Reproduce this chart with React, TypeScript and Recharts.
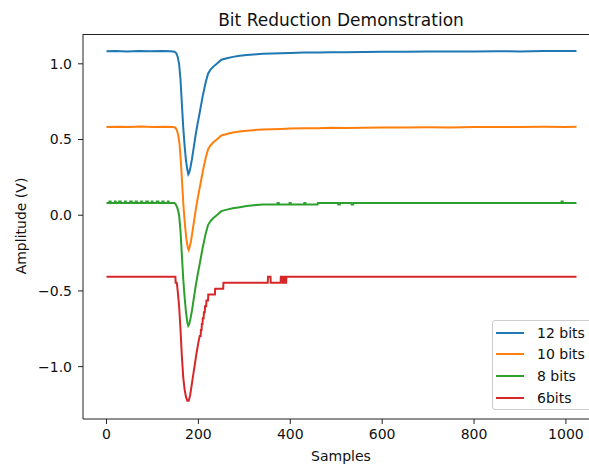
import React from 'react';
import { LineChart, Line, XAxis, YAxis, Legend, CartesianGrid } from 'recharts';

const FONT = '"DejaVu Sans", Verdana, sans-serif';

// ---- axes / labels ----
const chartTitle = 'Bit Reduction Demonstration';
const xLabel = 'Samples';
const yLabel = 'Amplitude (V)';
const xTicks = [0, 200, 400, 600, 800, 1000];
const yTicks = [-1.0, -0.5, 0.0, 0.5, 1.0];
const xDomain: [number, number] = [-51.15, 1074.15];
const yDomain: [number, number] = [-1.346, 1.197];

// ---- series ----
const seriesNames = ['12 bits', '10 bits', '8 bits', '6bits'];
const seriesColors = ['#1f77b4', '#ff7f0e', '#2ca02c', '#d62728'];

// 12 bits
const samples12 = [0, 20, 45, 70, 95, 120, 140, 148, 152, 155, 158, 161, 164, 167, 170, 173, 176, 178, 180, 183, 186, 190, 194, 198, 203, 209, 216, 221, 226, 232, 240, 250, 262, 275, 290, 305, 320, 340, 360, 380, 400, 430, 460, 490, 520, 560, 600, 650, 700, 750, 800, 850, 900, 950, 1000, 1023];
const values12 = [1.083, 1.085, 1.082, 1.084, 1.083, 1.085, 1.083, 1.08, 1.07, 1.045, 1.0, 0.9, 0.74, 0.58, 0.46, 0.36, 0.3, 0.27, 0.28, 0.32, 0.37, 0.45, 0.53, 0.6, 0.68, 0.78, 0.88, 0.935, 0.96, 0.98, 1.0, 1.027, 1.037, 1.046, 1.053, 1.058, 1.062, 1.066, 1.068, 1.07, 1.071, 1.074, 1.075, 1.077, 1.076, 1.078, 1.079, 1.08, 1.081, 1.081, 1.082, 1.083, 1.082, 1.084, 1.084, 1.085];

// 10 bits
const samples10 = [0, 25, 50, 75, 100, 125, 145, 150, 153, 156, 159, 162, 165, 168, 171, 174, 177, 179, 181, 184, 187, 191, 195, 199, 204, 210, 216, 221, 226, 232, 240, 250, 262, 275, 290, 305, 320, 340, 360, 380, 400, 430, 460, 490, 520, 560, 600, 650, 700, 750, 800, 850, 900, 950, 1000, 1023];
const values10 = [0.583, 0.585, 0.582, 0.586, 0.583, 0.584, 0.582, 0.578, 0.563, 0.53, 0.47, 0.35, 0.19, 0.04, -0.07, -0.16, -0.215, -0.23, -0.21, -0.17, -0.11, -0.03, 0.05, 0.12, 0.2, 0.295, 0.38, 0.435, 0.46, 0.48, 0.5, 0.527, 0.537, 0.546, 0.553, 0.558, 0.562, 0.566, 0.568, 0.57, 0.572, 0.574, 0.575, 0.577, 0.576, 0.578, 0.579, 0.58, 0.581, 0.58, 0.582, 0.583, 0.582, 0.584, 0.583, 0.585];

// 8 bits
const samples8 = [
  0, 6, 6.5, 9, 9.5, 18, 18.5, 20, 20.5, 27, 27.5, 31, 31.5, 40, 40.5, 42, 42.5, 51, 51.5, 55, 55.5,
  63, 63.5, 66, 66.5, 75, 75.5, 77, 77.5, 86, 86.5, 90, 90.5, 98, 98.5, 100, 100.5, 109, 109.5, 113, 113.5,
  121, 121.5, 124, 124.5, 133, 133.5, 135, 135.5,
  148, 151, 154, 156, 158, 161, 164, 167, 170, 173, 176, 178, 180, 183, 186, 190, 194, 198, 203, 209, 216,
  221, 226, 232, 240, 250, 262, 275, 290, 305, 340,
  372, 372.5, 375, 375.5, 398, 398.5, 401, 401.5, 430, 430.5, 433, 433.5, 459.5, 460,
  504, 504.5, 508, 508.5, 533, 533.5, 537, 537.5, 990, 990.5, 993, 993.5, 1023,
];
const values8 = [
  0.081, 0.081, 0.091, 0.091, 0.081, 0.081, 0.091, 0.091, 0.081, 0.081, 0.091, 0.091, 0.081, 0.081, 0.091, 0.091, 0.081, 0.081, 0.091, 0.091, 0.081,
  0.081, 0.091, 0.091, 0.081, 0.081, 0.091, 0.091, 0.081, 0.081, 0.091, 0.091, 0.081, 0.081, 0.091, 0.091, 0.081, 0.081, 0.091, 0.091, 0.081,
  0.081, 0.091, 0.091, 0.081, 0.081, 0.091, 0.091, 0.081,
  0.081, 0.07, 0.05, 0.03, 0.0, -0.1, -0.26, -0.42, -0.54, -0.64, -0.71, -0.73, -0.72, -0.68, -0.63, -0.55, -0.47, -0.4, -0.32, -0.22, -0.12,
  -0.065, -0.04, -0.02, 0.0, 0.027, 0.037, 0.046, 0.053, 0.061, 0.071,
  0.071, 0.081, 0.081, 0.071, 0.071, 0.081, 0.081, 0.071, 0.071, 0.081, 0.081, 0.071, 0.071, 0.081,
  0.081, 0.071, 0.071, 0.081, 0.081, 0.071, 0.071, 0.081, 0.081, 0.091, 0.091, 0.081, 0.081,
];

// 6 bits
const samples6 = [
  0, 150, 150.5, 153, 155, 158, 161, 164, 167, 170, 173, 176, 179, 182, 185, 188, 192, 196, 200, 203,
  205, 205.5, 207, 207.5, 209, 209.5, 211.5, 212, 214, 214.5, 217, 217.5, 221, 221.5, 236, 236.5, 254, 254.5,
  351, 351.5, 357, 357.5, 379, 379.5, 383, 383.5, 386, 386.5, 389, 389.5, 391, 391.5, 1023,
];
const values6 = [
  -0.407, -0.407, -0.446, -0.446, -0.5, -0.6, -0.75, -0.93, -1.07, -1.15, -1.2, -1.226, -1.226, -1.19, -1.13, -1.07, -0.99, -0.91, -0.84, -0.797,
  -0.797, -0.758, -0.758, -0.719, -0.719, -0.68, -0.68, -0.641, -0.641, -0.602, -0.602, -0.563, -0.563, -0.524, -0.524, -0.485, -0.485, -0.446,
  -0.446, -0.407, -0.407, -0.446, -0.446, -0.407, -0.407, -0.446, -0.446, -0.407, -0.407, -0.446, -0.446, -0.407, -0.407,
];

const toPoints = (xs: number[], vs: number[]) => xs.map((x, i) => ({ x, y: vs[i] }));

const series = [
  { name: seriesNames[0], color: seriesColors[0], data: toPoints(samples12, values12) },
  { name: seriesNames[1], color: seriesColors[1], data: toPoints(samples10, values10) },
  { name: seriesNames[2], color: seriesColors[2], data: toPoints(samples8, values8) },
  { name: seriesNames[3], color: seriesColors[3], data: toPoints(samples6, values6) },
];

// layout
const CHART_W = 620;
const CHART_H = 468;
const MARGIN = { top: 34, right: 20, bottom: 0, left: 0 };
const Y_AXIS_W = 83;
const PLOT_LEFT = MARGIN.left + Y_AXIS_W;
const PLOT_RIGHT = CHART_W - MARGIN.right;
const PLOT_TOP = MARGIN.top;

const fmtY = (v: number) => v.toFixed(1).replace('-', '\u2212');

const tickStyle = { fontSize: 14, fill: '#111', fontFamily: FONT };
const axisStroke = { stroke: '#222', strokeWidth: 1 };

const LegendBox = () => {
  const rowCenters = [12.5, 34.2, 55.9, 77.6];
  return (
    <div
      style={{
        position: 'relative',
        width: 110,
        height: 90,
        border: '1px solid #cccccc',
        borderRadius: 3,
        background: 'rgba(255,255,255,0.8)',
        boxSizing: 'border-box',
        fontFamily: FONT,
        fontSize: 14,
        color: '#111',
      }}
    >
      {seriesNames.map((name, i) => (
        <React.Fragment key={name}>
          <div
            style={{
              position: 'absolute',
              left: 3,
              top: rowCenters[i] - 2,
              width: 28,
              height: 2,
              background: seriesColors[i],
            }}
          />
          <div
            style={{
              position: 'absolute',
              left: 44,
              top: rowCenters[i] - 9,
              lineHeight: '17px',
              whiteSpace: 'nowrap',
            }}
          >
            {name}
          </div>
        </React.Fragment>
      ))}
    </div>
  );
};

export default function App() {
  return (
    <div
      style={{
        position: 'absolute',
        left: 0,
        top: 0,
        width: 589,
        height: 468,
        overflow: 'hidden',
        background: '#fff',
      }}
    >
      <LineChart width={CHART_W} height={CHART_H} margin={MARGIN}>
        <CartesianGrid
          vertical={false}
          horizontal
          horizontalPoints={[PLOT_TOP + 0.5]}
          stroke="#222"
          strokeWidth={1}
          strokeOpacity={1}
        />
        <XAxis
          dataKey="x"
          type="number"
          domain={xDomain}
          ticks={xTicks}
          allowDataOverflow
          height={49}
          tickSize={5}
          tickMargin={5}
          tick={tickStyle}
          axisLine={axisStroke}
          tickLine={axisStroke}
        />
        <YAxis
          type="number"
          domain={yDomain}
          ticks={yTicks}
          allowDataOverflow
          width={Y_AXIS_W}
          tickSize={5}
          tickMargin={6}
          tickFormatter={fmtY}
          tick={tickStyle}
          axisLine={axisStroke}
          tickLine={axisStroke}
        />
        {series.map((s) => (
          <Line
            key={s.name}
            data={s.data}
            dataKey="y"
            name={s.name}
            type="linear"
            stroke={s.color}
            strokeWidth={2}
            dot={false}
            activeDot={false}
            isAnimationActive={false}
          />
        ))}
        <Legend
          layout="horizontal"
          verticalAlign="middle"
          align="center"
          content={<LegendBox />}
          wrapperStyle={{ position: 'absolute', left: 492, top: 320, width: 110, height: 90 }}
        />
        <line
          x1={PLOT_LEFT}
          y1={PLOT_TOP + 0.5}
          x2={PLOT_RIGHT}
          y2={PLOT_TOP + 0.5}
          stroke="#222"
          strokeWidth={1}
        />
        <text x={341} y={26} textAnchor="middle" fontFamily={FONT} fontSize={17} fill="#111">
          {chartTitle}
        </text>
        <text x={341} y={461} textAnchor="middle" fontFamily={FONT} fontSize={14} fill="#111">
          {xLabel}
        </text>
        <text
          transform="translate(26,226) rotate(-90)"
          textAnchor="middle"
          fontFamily={FONT}
          fontSize={14}
          fill="#111"
        >
          {yLabel}
        </text>
      </LineChart>
    </div>
  );
}
